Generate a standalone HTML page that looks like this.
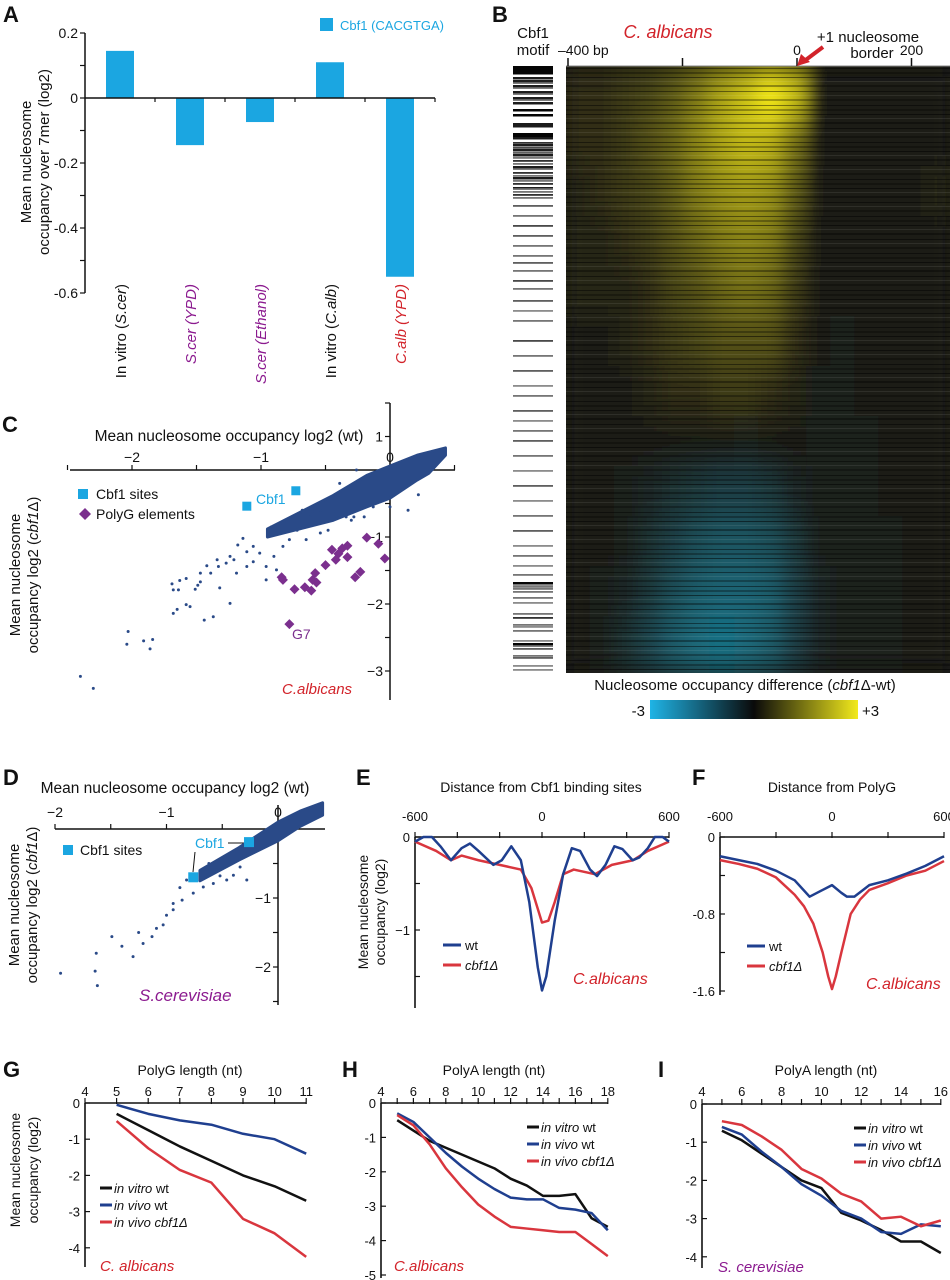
<!DOCTYPE html>
<html><head><meta charset="utf-8">
<style>
html,body{margin:0;padding:0;background:#fff;}
svg{display:block;font-family:"Liberation Sans",Arial,sans-serif;}
text{fill:#111;}
</style></head>
<body>
<svg id="fig" width="950" height="1280" viewBox="0 0 950 1280" xmlns="http://www.w3.org/2000/svg">
<defs>
<clipPath id="hmclip"><rect x="566" y="66" width="384" height="607"/></clipPath>
<filter id="hmblur" x="-5%" y="-5%" width="110%" height="110%"><feGaussianBlur stdDeviation="9 16"/></filter>
<pattern id="streaks" x="0" y="66" width="384" height="37" patternUnits="userSpaceOnUse">
<rect x="0" y="2" width="384" height="1" fill="#000" opacity="0.45"/>
<rect x="0" y="6" width="384" height="2" fill="#000" opacity="0.3"/>
<rect x="0" y="11" width="384" height="1" fill="#000" opacity="0.5"/>
<rect x="0" y="15" width="384" height="1" fill="#fff" opacity="0.08"/>
<rect x="0" y="19" width="384" height="2" fill="#000" opacity="0.35"/>
<rect x="0" y="25" width="384" height="1" fill="#000" opacity="0.45"/>
<rect x="0" y="29" width="384" height="1" fill="#fff" opacity="0.08"/>
<rect x="0" y="33" width="384" height="2" fill="#000" opacity="0.3"/>
</pattern>
</defs>
<rect x="0" y="0" width="950" height="1280" fill="#fff"/>
<g font-weight="bold" font-size="22">
<text x="3" y="22">A</text>
<text x="492" y="22">B</text>
<text x="2" y="432">C</text>
<text x="3" y="785">D</text>
<text x="356" y="785">E</text>
<text x="692" y="785">F</text>
<text x="3" y="1077">G</text>
<text x="342" y="1077">H</text>
<text x="658" y="1077">I</text>
</g>
<g>
<rect x="320" y="18" width="13" height="13" fill="#1ba6e1"/>
<text x="340" y="30" font-size="13" style="fill:#1ba6e1">Cbf1 (CACGTGA)</text>
<text transform="translate(31,162) rotate(-90)" text-anchor="middle" font-size="15">Mean nucleosome</text>
<text transform="translate(49,162) rotate(-90)" text-anchor="middle" font-size="15">occupancy over 7mer (log2)</text>
</g>
<g id="gA"></g>
<g>
<text x="533" y="38" text-anchor="middle" font-size="15">Cbf1</text>
<text x="533" y="55" text-anchor="middle" font-size="15">motif</text>
<text x="668" y="38" text-anchor="middle" font-size="18" font-style="italic" style="fill:#d2232a">C. albicans</text>
<text x="868" y="42" text-anchor="middle" font-size="15">+1 nucleosome</text>
<text x="872" y="58" text-anchor="middle" font-size="15">border</text>
<text x="745" y="690" text-anchor="middle" font-size="15">Nucleosome occupancy difference (<tspan font-style="italic">cbf1</tspan>Δ-wt)</text>
<linearGradient id="cbar" x1="0" x2="1" y1="0" y2="0">
<stop offset="0" stop-color="#1fb4e6"/><stop offset="0.5" stop-color="#0a0a0a"/><stop offset="1" stop-color="#f2ea1c"/></linearGradient>
<rect x="650" y="700" width="208" height="19" fill="url(#cbar)"/>
<text x="645" y="716" text-anchor="end" font-size="15">-3</text>
<text x="862" y="716" font-size="15">+3</text>
</g>
<g id="gB"></g>
<g>
<path d="M823,47 L803,62" stroke="#d2232a" stroke-width="4"/>
<polygon points="797,66 801,54 810,62" fill="#d2232a"/>
</g>
<g>
<text x="229" y="441" text-anchor="middle" font-size="15.5">Mean nucleosome occupancy log2 (wt)</text>
<text transform="translate(20,575) rotate(-90)" text-anchor="middle" font-size="15">Mean nucleosome</text>
<text transform="translate(38,575) rotate(-90)" text-anchor="middle" font-size="15">occupancy log2 (<tspan font-style="italic">cbf1</tspan>Δ)</text>
<rect x="78" y="489" width="10" height="10" fill="#1ba6e1"/>
<text x="96" y="499" font-size="14">Cbf1 sites</text>
<polygon points="85,508 91,514 85,520 79,514" fill="#7b2f8e"/>
<text x="96" y="519" font-size="14">PolyG elements</text>
<text x="256" y="504" font-size="14" style="fill:#1ba6e1">Cbf1</text>
<text x="292" y="639" font-size="14" style="fill:#7b2f8e">G7</text>
<text x="282" y="694" font-size="15" font-style="italic" style="fill:#d2232a">C.albicans</text>
</g>
<g id="gC"></g>
<g>
<text x="175" y="793" text-anchor="middle" font-size="15.5">Mean nucleosome occupancy log2 (wt)</text>
<text transform="translate(19,905) rotate(-90)" text-anchor="middle" font-size="15">Mean nucleosome</text>
<text transform="translate(37,905) rotate(-90)" text-anchor="middle" font-size="15">occupancy log2 (<tspan font-style="italic">cbf1</tspan>Δ)</text>
<rect x="63" y="845" width="10" height="10" fill="#1ba6e1"/>
<text x="80" y="855" font-size="14">Cbf1 sites</text>
<text x="195" y="848" font-size="14" style="fill:#1ba6e1">Cbf1</text>
<path d="M228,843 L244,843 M195,852 L193,872" stroke="#111" stroke-width="1" fill="none"/>
<text x="139" y="1001" font-size="17" font-style="italic" style="fill:#8b1a8f">S.cerevisiae</text>
</g>
<g id="gD"></g>
<g>
<text x="541" y="792" text-anchor="middle" font-size="14">Distance from Cbf1 binding sites</text>
<text transform="translate(368,912) rotate(-90)" text-anchor="middle" font-size="14">Mean nucleosome</text>
<text transform="translate(385,912) rotate(-90)" text-anchor="middle" font-size="14">occupancy (log2)</text>
<line x1="443" y1="945" x2="461" y2="945" stroke="#1f3f8f" stroke-width="3"/>
<text x="465" y="950" font-size="13">wt</text>
<line x1="443" y1="965" x2="461" y2="965" stroke="#d9363e" stroke-width="3"/>
<text x="465" y="970" font-size="13" font-style="italic">cbf1Δ</text>
<text x="573" y="984" font-size="16" font-style="italic" style="fill:#d2232a">C.albicans</text>
</g>
<g>
<text x="832" y="792" text-anchor="middle" font-size="14">Distance from PolyG</text>
<line x1="747" y1="946" x2="765" y2="946" stroke="#1f3f8f" stroke-width="3"/>
<text x="769" y="951" font-size="13">wt</text>
<line x1="747" y1="966" x2="765" y2="966" stroke="#d9363e" stroke-width="3"/>
<text x="769" y="971" font-size="13" font-style="italic">cbf1Δ</text>
<text x="866" y="989" font-size="16" font-style="italic" style="fill:#d2232a">C.albicans</text>
</g>
<g id="gE"></g>
<g id="gF"></g>
<g>
<text x="190" y="1075" text-anchor="middle" font-size="14">PolyG length (nt)</text>
<text transform="translate(20,1170) rotate(-90)" text-anchor="middle" font-size="14">Mean nucleosome</text>
<text transform="translate(38,1170) rotate(-90)" text-anchor="middle" font-size="14">occupancy (log2)</text>
<text x="100" y="1271" font-size="15" font-style="italic" style="fill:#d2232a">C. albicans</text>
</g>
<g>
<text x="494" y="1075" text-anchor="middle" font-size="14">PolyA length (nt)</text>
<text x="394" y="1271" font-size="15" font-style="italic" style="fill:#d2232a">C.albicans</text>
</g>
<g>
<text x="826" y="1075" text-anchor="middle" font-size="14">PolyA length (nt)</text>
<text x="718" y="1272" font-size="15" font-style="italic" style="fill:#8b1a8f">S. cerevisiae</text>
</g>
<g id="gG"></g>
<g id="gH"></g>
<g id="gI"></g>
</svg>
<script>
// ---------- Panel A data ----------
const aCategories = ["In vitro (S.cer)", "S.cer (YPD)", "S.cer (Ethanol)", "In vitro (C.alb)", "C.alb (YPD)"];
const aItalicParts = [["In vitro (", "S.cer", ")"], ["", "S.cer (YPD)", ""], ["", "S.cer (Ethanol)", ""], ["In vitro (", "C.alb", ")"], ["", "C.alb (YPD)", ""]];
const aColors = ["#111", "#8b1a8f", "#8b1a8f", "#111", "#d2232a"];
const aValues = [0.145, -0.145, -0.074, 0.11, -0.55];
const aTicks = [0.2, 0, -0.2, -0.4, -0.6];
const aTickLabels = ["0.2", "0", "-0.2", "-0.4", "-0.6"];

// ---------- Panel B data ----------
const bColEdgesBp = [-404,-362,-320,-278,-236,-194,-152,-110,-68,-26,16,58,100,142,184,226,268];
const bBandRows = [0,50,100,150,200,250,300,350,400,450,500,550,607];
const bMatrix = [
 [0.2,0.2,0.3,0.4,0.6,0.9,1.3,1.6,2.2,1.6,0,0,0,0,0,0],
 [0.2,0.2,0.3,0.5,0.7,1.0,1.3,1.5,1.4,0.8,0,0,0,0,0,0],
 [0.1,0.2,0.3,0.4,0.6,0.9,1.1,1.2,1.1,0.6,0,0,0,0,0,0.1],
 [0.1,0.1,0.2,0.3,0.5,0.7,0.9,1.0,0.9,0.4,0,0,0,0,0,0],
 [0.1,0.1,0.1,0.2,0.4,0.5,0.7,0.8,0.7,0.3,0,0,0,0,0,0],
 [0,0,0.1,0.2,0.3,0.4,0.5,0.5,0.5,0.2,0,-0.1,0,0,0,0],
 [0,0,0,0.1,0.2,0.2,0.3,0.3,0.2,0.1,-0.1,-0.1,0,0,0,0],
 [0,0,0,0,0,0,0,-0.1,0,0,-0.1,-0.1,-0.1,0,0,0],
 [0,0,-0.1,-0.2,-0.3,-0.4,-0.5,-0.5,-0.4,-0.2,-0.1,-0.1,-0.1,0,0,0],
 [0,0,-0.1,-0.3,-0.5,-0.7,-0.8,-0.8,-0.7,-0.4,-0.1,-0.1,-0.1,-0.1,0,0],
 [0,-0.1,-0.2,-0.4,-0.7,-0.9,-1.0,-1.0,-0.9,-0.5,-0.2,-0.1,-0.1,-0.1,0,0],
 [0,-0.1,-0.3,-0.6,-0.9,-1.1,-1.2,-1.1,-0.9,-0.5,-0.2,-0.1,-0.1,-0.1,0,0]
];
const bTicks = [-400, -200, 0, 200];
const bTickLabels = ["\u2013400 bp", "", "0", "200"];
const motifRows = [0,2,4,6,11,14,16,19,21,25,27,31,33,36,43,48,57,59,67,69,71,76,78,81,83,86,88,91,94,97,100,102,106,109,111,114,117,121,122,125,128,131,139,149,159,169,179,189,196,204,214,222,234,244,254,274,289,304,319,329,344,354,364,374,389,404,419,434,449,464,479,489,499,508,516,518,520,522,525,531,536,547,551,558,560,564,574,577,579,582,589,591,599,603];
const motifDark = [1,1,1,1,.9,.9,.6,.9,.6,.9,.6,.9,.6,.9,1,1,.9,.9,1,1,.9,.8,.9,.7,.9,.6,.9,.5,.8,.5,.9,.6,.8,.5,.9,.5,.8,.9,.6,.5,.8,.5,.6,.5,.7,.6,.5,.5,.6,.5,.7,.5,.6,.4,.5,.7,.5,.6,.4,.5,.6,.4,.5,.6,.5,.4,.6,.4,.5,.6,.4,.5,.4,.5,1,.5,.5,.5,.5,.5,.4,.5,.8,.5,.4,.5,.4,1,.6,.6,.5,.6,.4,.4];

// ---------- Panel C data ----------
const cPointsX = [-2.40,-2.30,-2.03,-2.04,-1.91,-1.84,-1.86,-1.69,-1.63,-1.58,-1.68,-1.64,-1.68,-1.65,-1.58,-1.55,-1.44,-1.37,-1.51,-1.49,-1.47,-1.42,-1.39,-1.33,-1.32,-1.24,-1.27,-1.21,-1.19,-1.18,-1.14,-1.11,-1.06,-1.01,-0.96,-0.90,-0.96,-0.84,-0.78,-0.72,-0.70,-0.83,-1.06,-1.11,-0.88,-0.65,-0.54,-0.48,-0.41,-0.44,-0.34,-0.28,-0.39,-0.26,-0.13,0,0.14,0.22,-0.54,-0.62,-0.75,-1.24,-1.34,-1.47,-0.92,-0.85,-0.60,-0.68,-0.50,-0.30,-0.20];
const cPointsY = [-3.08,-3.26,-2.41,-2.60,-2.55,-2.53,-2.67,-1.70,-1.65,-1.62,-1.79,-1.79,-2.14,-2.08,-2.01,-2.04,-2.24,-2.19,-1.78,-1.72,-1.67,-1.43,-1.54,-1.44,-1.76,-1.99,-1.39,-1.34,-1.54,-1.12,-1.02,-1.22,-1.14,-1.24,-1.44,-1.29,-1.64,-0.94,-1.04,-0.90,-0.85,-1.14,-1.37,-1.44,-1.49,-1.04,-0.94,-0.90,-0.72,-0.62,-0.70,-0.70,-0.20,0.0,-0.55,-0.55,-0.60,-0.37,-0.60,-0.70,-0.70,-1.29,-1.34,-1.54,-0.85,-0.80,-0.62,-0.60,-0.50,-0.75,-0.70];
const cCloudX = [-0.95,-0.44,-0.18,0,0.21,0.43,0.43,0.3,0.21,0,-0.18,-0.44,-0.95];
const cCloudY = [-0.88,-0.38,-0.08,0.06,0.22,0.33,0.22,-0.05,-0.15,-0.42,-0.55,-0.75,-1.0];
const cCbf1X = [-1.11, -0.73];
const cCbf1Y = [-0.54, -0.31];
const cPolyGX = [-0.18,-0.09,-0.04,-0.33,-0.37,-0.45,-0.40,-0.42,-0.33,-0.50,-0.58,-0.60,-0.57,-0.66,-0.61,-0.74,-0.84,-0.83,-0.23,-0.27,-0.78];
const cPolyGY = [-1.01,-1.10,-1.32,-1.13,-1.17,-1.19,-1.25,-1.34,-1.30,-1.42,-1.54,-1.64,-1.68,-1.75,-1.80,-1.78,-1.60,-1.64,-1.52,-1.60,-2.30];
const cXTicks = [-2.5,-2,-1.5,-1,-0.5,0,0.5];
const cXTickLabels = {"-2":"\u22122","-1":"\u22121","0":"0"};
const cYTicks = [1,0.5,0,-0.5,-1,-1.5,-2,-2.5,-3];
const cYTickLabels = {"0.5":"1","-1":"\u22121","-2":"\u22122","-3":"\u22123"};

// ---------- Panel D data ----------
const dPointsX = [-0.82,-0.70,-0.64,-0.55,-0.58,-0.76,-0.86,-0.94,-1.0,-1.03,-1.09,-1.13,-1.21,-1.30,-1.49,-1.63,-0.46,-0.40,-0.34,-0.28,-0.94,-0.67,-1.95,-1.64,-1.62,-1.25,-1.40,-0.88,-0.52,-0.62];
const dPointsY = [-0.74,-0.62,-0.69,-0.59,-0.79,-0.93,-1.03,-1.17,-1.25,-1.39,-1.44,-1.56,-1.66,-1.85,-1.56,-1.80,-0.74,-0.67,-0.55,-0.74,-1.08,-0.84,-2.09,-2.06,-2.27,-1.50,-1.70,-0.85,-0.68,-0.50];
const dCloudX = [-0.7,-0.35,0,0.2,0.4,0.4,0.2,0,-0.35,-0.7];
const dCloudY = [-0.6,-0.27,0.1,0.26,0.38,0.2,0.04,-0.17,-0.45,-0.75];
const dCbf1X = [-0.26, -0.76];
const dCbf1Y = [-0.19, -0.70];
const dXTicks = [-2,-1.5,-1,-0.5,0];
const dXTickLabels = {"-2":"\u22122","-1":"\u22121","0":"0"};
const dYTicks = [0,-0.5,-1,-1.5,-2,-2.5];
const dYTickLabels = {"-1":"\u22121","-2":"\u22122"};

// ---------- Panel E data ----------
const eWtX = [-600,-560,-520,-480,-430,-380,-340,-300,-230,-190,-145,-100,-60,-20,0,20,60,100,141,180,227,260,300,342,380,428,460,500,533,570,600];
const eWtY = [-0.05,0,0,-0.1,-0.25,-0.12,-0.07,-0.15,-0.3,-0.25,-0.1,-0.25,-0.7,-1.4,-1.65,-1.5,-0.9,-0.4,-0.12,-0.15,-0.35,-0.42,-0.3,-0.1,-0.13,-0.25,-0.22,-0.12,0,0,-0.05];
const eCbfX = [-600,-500,-430,-380,-300,-200,-100,-50,0,30,60,100,150,250,330,430,500,600];
const eCbfY = [-0.05,-0.15,-0.25,-0.2,-0.25,-0.3,-0.35,-0.55,-0.92,-0.9,-0.7,-0.4,-0.35,-0.4,-0.3,-0.25,-0.15,-0.05];
const eXTicks = [-600,-400,-200,0,200,400,600];
const eXTickLabels = {"-600":"-600","0":"0","600":"600"};
const eYTicks = [0,-0.5,-1,-1.5];
const eYTickLabels = {"0":"0","-1":"\u22121"};

// ---------- Panel F data ----------
const fWtX = [-600,-500,-400,-300,-200,-120,-80,-50,0,50,80,120,200,300,400,500,600];
const fWtY = [-0.2,-0.24,-0.28,-0.35,-0.45,-0.62,-0.58,-0.55,-0.5,-0.58,-0.62,-0.62,-0.5,-0.45,-0.38,-0.3,-0.2];
const fCbfX = [-600,-500,-400,-300,-200,-150,-100,-50,-20,0,20,50,100,150,200,300,400,500,600];
const fCbfY = [-0.24,-0.28,-0.33,-0.42,-0.6,-0.72,-0.9,-1.2,-1.45,-1.58,-1.45,-1.2,-0.8,-0.65,-0.55,-0.48,-0.4,-0.35,-0.25];
const fXTicks = [-600,-300,0,300,600];
const fXTickLabels = {"-600":"-600","0":"0","600":"600"};
const fYTicks = [0,-0.4,-0.8,-1.2,-1.6];
const fYTickLabels = {"0":"0","-0.8":"-0.8","-1.6":"-1.6"};

// ---------- Panel G data ----------
const gLengths = [5,6,7,8,9,10,11];
const gVitro = [-0.3,-0.75,-1.2,-1.6,-2.0,-2.3,-2.7];
const gVivo = [-0.05,-0.3,-0.48,-0.6,-0.85,-1.0,-1.4];
const gCbf = [-0.5,-1.25,-1.85,-2.2,-3.2,-3.6,-4.25];
const gXTicks = [4,5,6,7,8,9,10,11];
const gYTicks = [0,-1,-2,-3,-4];

// ---------- Panel H data ----------
const hLengths = [5,6,7,8,9,10,11,12,13,14,15,16,17,18];
const hVitro = [-0.5,-0.8,-1.1,-1.3,-1.5,-1.7,-1.9,-2.2,-2.4,-2.7,-2.7,-2.65,-3.35,-3.6];
const hVivo = [-0.3,-0.55,-1.0,-1.45,-1.85,-2.2,-2.5,-2.75,-2.8,-2.8,-3.05,-3.1,-3.2,-3.7];
const hCbf = [-0.35,-0.65,-1.2,-1.9,-2.45,-2.95,-3.3,-3.6,-3.65,-3.7,-3.75,-3.75,-4.1,-4.45];
const hXTicks = [4,5,6,7,8,9,10,11,12,13,14,15,16,17,18];
const hYTicks = [0,-1,-2,-3,-4,-5];

// ---------- Panel I data ----------
const iLengths = [5,6,7,8,9,10,11,12,13,14,15,16];
const iVitro = [-0.7,-0.95,-1.3,-1.65,-2.0,-2.2,-2.85,-3.05,-3.3,-3.6,-3.6,-3.9];
const iVivo = [-0.6,-0.8,-1.25,-1.65,-2.1,-2.4,-2.8,-3.0,-3.35,-3.4,-3.15,-3.2];
const iCbf = [-0.45,-0.55,-0.85,-1.2,-1.7,-1.95,-2.35,-2.55,-3.0,-2.95,-3.2,-3.05];
const iXTicks = [4,5,6,7,8,9,10,11,12,13,14,15,16];
const iYTicks = [0,-1,-2,-3,-4];

const NS = "http://www.w3.org/2000/svg";
function mk(parent, tag, attrs) {
  const e = document.createElementNS(NS, tag);
  for (const k in attrs) e.setAttribute(k, attrs[k]);
  parent.appendChild(e);
  return e;
}
function fmt(v){ return String(Math.round(v*1000)/1000); }

// ===== Panel A =====
(function(){
  const g = document.getElementById("gA");
  const yA = v => 98 - v*325;
  const xA = i => 120 + i*70;
  let ax = mk(g, "line", {x1:85,y1:yA(0.2),x2:85,y2:yA(-0.6),stroke:"#111","stroke-width":1.5});
  
  
  for (let v=0.2; v>=-0.6001; v-=0.1) {
    const t = mk(g,"line",{x1:80,y1:yA(v),x2:85,y2:yA(v),stroke:"#111","stroke-width":1.2});
    
    
  }
  aTicks.forEach((v,i)=>{
    const t = mk(g,"text",{x:78,y:yA(v)+5,"text-anchor":"end","font-size":14});
    t.textContent = aTickLabels[i];
    
    
  });
  aValues.forEach((v,i)=>{
    const y0 = yA(0), y1 = yA(v);
    const r = mk(g,"rect",{x:xA(i)-14,y:Math.min(y0,y1),width:28,height:Math.abs(y1-y0),fill:"#1ba6e1"});
    
    
  });
  const xl = mk(g,"line",{x1:85,y1:yA(0),x2:xA(4)+35,y2:yA(0),stroke:"#111","stroke-width":1.5});
  
  
  aCategories.forEach((c,i)=>{
    const tk = mk(g,"line",{x1:xA(i)+35,y1:yA(0),x2:xA(i)+35,y2:yA(0)+4,stroke:"#111","stroke-width":1.2});
    
    
    const t = mk(g,"text",{transform:"translate("+(xA(i)+6)+",284) rotate(-90)","text-anchor":"end","font-size":15});
    const p = aItalicParts[i];
    const s1 = mk(t,"tspan",{}); s1.textContent = p[0];
    const s2 = mk(t,"tspan",{"font-style":"italic"}); s2.textContent = p[1];
    const s3 = mk(t,"tspan",{}); s3.textContent = p[2];
    t.style.fill = aColors[i];
    
    
  });
})();

// ===== Panel B =====
(function(){
  const g = document.getElementById("gB");
  const xB = bp => 797 + bp*(229/400);
  const yB = r => 66 + r;
  const base = [26,26,22];
  function col(v){
    const t = v>=0 ? Math.min(1, v/2) : Math.min(1, -v/2.2);
    const c = v>=0 ? [250,238,20] : [25,185,225];
    return "rgb("+base.map((b,k)=>Math.round(b+(c[k]-b)*t)).join(",")+")";
  }
  const clipG = mk(g,"g",{"clip-path":"url(#hmclip)"});
  
  
  const bg = mk(clipG,"rect",{x:566,y:66,width:384,height:607,fill:"rgb(26,26,22)"});
  
  
  const cells = mk(clipG,"g",{filter:"url(#hmblur)"});
  
  
  bMatrix.forEach((row,ri)=>{
    row.forEach((v,ci)=>{
      const x0 = xB(bColEdgesBp[ci]), x1 = xB(bColEdgesBp[ci+1]);
      const r = mk(cells,"rect",{x:fmt(x0),y:yB(bBandRows[ri]),width:fmt(x1-x0+0.6),height:bBandRows[ri+1]-bBandRows[ri]+0.5,fill:col(v)});
      
      
    });
  });
  const st = mk(clipG,"rect",{x:566,y:66,width:384,height:607,fill:"url(#streaks)"});
  
  
  const fr = mk(g,"line",{x1:566,y1:66,x2:950,y2:66,stroke:"#888","stroke-width":1});
  
  
  bTicks.forEach((v,i)=>{
    const t = mk(g,"line",{x1:xB(v),y1:58,x2:xB(v),y2:66,stroke:"#111","stroke-width":1.5});
    
    
    if (bTickLabels[i]) {
      const tx = mk(g,"text",{x:xB(v)+(i===0?-10:0),y:55,"text-anchor":i===0?"start":"middle","font-size":14});
      tx.textContent = bTickLabels[i];
      
      
    }
  });
  motifRows.forEach((r,i)=>{
    const d = motifDark[i];
    const c = Math.round(230 - d*225);
    const l = mk(g,"rect",{x:513,y:yB(r),width:40,height:d>0.85?2.5:1.8,fill:"rgb("+c+","+c+","+c+")"});
    
    
  });
})();

function scatterAxes(g, sx, sy, xTicks, xLabs, yTicks, yLabs, xRange, yRange, tag, xLabY, yLabX){
  const xa = mk(g,"line",{x1:xRange[0],y1:sy(0),x2:xRange[1],y2:sy(0),stroke:"#111","stroke-width":1.5});
  
  
  const ya = mk(g,"line",{x1:sx(0),y1:yRange[0],x2:sx(0),y2:yRange[1],stroke:"#111","stroke-width":1.5});
  
  
  xTicks.forEach(v=>{
    const t = mk(g,"line",{x1:sx(v),y1:sy(0),x2:sx(v),y2:sy(0)-5,stroke:"#111","stroke-width":1.2});
    
    
    if (xLabs[String(v)] !== undefined) {
      const tx = mk(g,"text",{x:sx(v),y:xLabY,"text-anchor":"middle","font-size":14});
      tx.textContent = xLabs[String(v)];
      
      
    }
  });
  yTicks.forEach(v=>{
    const t = mk(g,"line",{x1:sx(0)-5,y1:sy(v),x2:sx(0),y2:sy(v),stroke:"#111","stroke-width":1.2});
    
    
    if (yLabs[String(v)] !== undefined) {
      const tx = mk(g,"text",{x:sx(0)+yLabX,y:sy(v)+5,"text-anchor":"end","font-size":14});
      tx.textContent = yLabs[String(v)];
      
      
    }
  });
}
function cloud(g, sx, sy, xs, ys, tag){
  const pts = xs.map((x,i)=>fmt(sx(x))+","+fmt(sy(ys[i]))).join(" ");
  const p = mk(g,"polygon",{points:pts,fill:"#2a4a88","stroke":"#2a4a88","stroke-width":3,"stroke-linejoin":"round"});
  
  
}
function dots(g, sx, sy, xs, ys, tag){
  xs.forEach((x,i)=>{
    const c = mk(g,"circle",{cx:fmt(sx(x)),cy:fmt(sy(ys[i])),r:1.5,fill:"#2a4a88"});
    
    
  });
}

(function(){
  const g = document.getElementById("gC");
  const xC = v => 390 + v*129;
  const yC = v => 470 - v*67;
  scatterAxes(g, xC, yC, cXTicks, cXTickLabels, cYTicks, cYTickLabels, [70,455], [403,700], "c", 462, -7);
  cloud(g, xC, yC, cCloudX, cCloudY, "c");
  dots(g, xC, yC, cPointsX, cPointsY, "c");
  cPolyGX.forEach((x,i)=>{
    const cx = xC(x), cy = yC(cPolyGY[i]);
    const d = mk(g,"polygon",{points:fmt(cx)+","+fmt(cy-5)+" "+fmt(cx+5)+","+fmt(cy)+" "+fmt(cx)+","+fmt(cy+5)+" "+fmt(cx-5)+","+fmt(cy),fill:"#7b2f8e"});
    
    
  });
  cCbf1X.forEach((x,i)=>{
    const r = mk(g,"rect",{x:fmt(xC(x)-4.5),y:fmt(yC(cCbf1Y[i])-4.5),width:9,height:9,fill:"#1ba6e1"});
    
    
  });
})();

(function(){
  const g = document.getElementById("gD");
  const xD = v => 278 + v*111.5;
  const yD = v => 829 - v*69;
  scatterAxes(g, xD, yD, dXTicks, dXTickLabels, dYTicks, dYTickLabels, [55,325], [805,1005], "d", 817, -7);
  cloud(g, xD, yD, dCloudX, dCloudY, "d");
  dots(g, xD, yD, dPointsX, dPointsY, "d");
  dCbf1X.forEach((x,i)=>{
    const r = mk(g,"rect",{x:fmt(xD(x)-5),y:fmt(yD(dCbf1Y[i])-5),width:10,height:10,fill:"#1ba6e1"});
    
    
  });
})();

function polyline(g, xs, ys, sx, sy, color, name, w){
  const pts = xs.map((x,i)=>fmt(sx(x))+","+fmt(sy(ys[i]))).join(" ");
  const p = mk(g,"polyline",{points:pts,fill:"none",stroke:color,"stroke-width":w||2.5,"stroke-linejoin":"round"});
  
  
}
function topAxes(g, sx, sy, xTicks, xLabFn, yTicks, yLabFn, yBottom, tag, xLabY){
  const xa = mk(g,"line",{x1:sx(xTicks[0]),y1:sy(0),x2:sx(xTicks[xTicks.length-1]),y2:sy(0),stroke:"#111","stroke-width":1.6});
  
  
  const ya = mk(g,"line",{x1:sx(xTicks[0]),y1:sy(0),x2:sx(xTicks[0]),y2:yBottom,stroke:"#111","stroke-width":1.6});
  
  
  xTicks.forEach(v=>{
    const t = mk(g,"line",{x1:sx(v),y1:sy(0)-5,x2:sx(v),y2:sy(0)+1,stroke:"#111","stroke-width":1.2});
    
    
    const lab = xLabFn(v);
    if (lab !== null) {
      const tx = mk(g,"text",{x:sx(v),y:xLabY,"text-anchor":"middle","font-size":13});
      tx.textContent = lab;
      
      
    }
  });
  yTicks.forEach(v=>{
    const t = mk(g,"line",{x1:sx(xTicks[0]),y1:sy(v),x2:sx(xTicks[0])+5,y2:sy(v),stroke:"#111","stroke-width":1.2});
    
    
    const lab = yLabFn(v);
    if (lab !== null) {
      const tx = mk(g,"text",{x:sx(xTicks[0])-5,y:sy(v)+5,"text-anchor":"end","font-size":13});
      tx.textContent = lab;
      
      
    }
  });
}
function legend3(g, x, y0, step, tag){
  const items = [["in vitro"," wt","#111"],["in vivo"," wt","#1f3f8f"],["in vivo"," cbf1\u0394","#d9363e"]];
  items.forEach((it,i)=>{
    const y = y0 + i*step;
    const l = mk(g,"line",{x1:x,y1:y,x2:x+12,y2:y,stroke:it[2],"stroke-width":3});
    
    
    const t = mk(g,"text",{x:x+14,y:y+5,"font-size":13});
    const a = mk(t,"tspan",{"font-style":"italic"}); a.textContent = it[0];
    const b = mk(t,"tspan",{"font-style": i===2 ? "italic" : "normal"}); b.textContent = it[1];
    
    
  });
}

(function(){
  const g = document.getElementById("gE");
  const xE = bp => 542 + bp*(254/1200);
  const yE = v => 837 - v*93;
  topAxes(g, xE, yE, eXTicks, v=>eXTickLabels[String(v)]===undefined?null:eXTickLabels[String(v)], eYTicks, v=>eYTickLabels[String(v)]===undefined?null:eYTickLabels[String(v)], 1008, "e", 821);
  polyline(g, eCbfX, eCbfY, xE, yE, "#d9363e", "cbf1-line-e");
  polyline(g, eWtX, eWtY, xE, yE, "#1f3f8f", "wt-line-e");
})();
(function(){
  const g = document.getElementById("gF");
  const xF = bp => 832 + bp*(224/1200);
  const yF = v => 837 - v*96.25;
  topAxes(g, xF, yF, fXTicks, v=>fXTickLabels[String(v)]===undefined?null:fXTickLabels[String(v)], fYTicks, v=>fYTickLabels[String(v)]===undefined?null:fYTickLabels[String(v)], 995, "f", 821);
  polyline(g, fCbfX, fCbfY, xF, yF, "#d9363e", "cbf1-line-f");
  polyline(g, fWtX, fWtY, xF, yF, "#1f3f8f", "wt-line-f");
})();
(function(){
  const g = document.getElementById("gG");
  const xG = n => 85 + (n-4)*31.6;
  const yG = v => 1103 - v*36.2;
  topAxes(g, xG, yG, gXTicks, v=>String(v), gYTicks, v=>String(v), 1267, "g", 1096);
  polyline(g, gLengths, gVitro, xG, yG, "#111", "in-vitro-wt-line-g");
  polyline(g, gLengths, gVivo, xG, yG, "#1f3f8f", "in-vivo-wt-line-g");
  polyline(g, gLengths, gCbf, xG, yG, "#d9363e", "in-vivo-cbf1-line-g");
  legend3(g, 100, 1188, 17, "g");
})();
(function(){
  const g = document.getElementById("gH");
  const xH = n => 381 + (n-4)*16.2;
  const yH = v => 1103 - v*34.4;
  topAxes(g, xH, yH, hXTicks, v=>v%2===0?String(v):null, hYTicks, v=>String(v), 1278, "h", 1096);
  polyline(g, hLengths, hVitro, xH, yH, "#111", "in-vitro-wt-line-h");
  polyline(g, hLengths, hVivo, xH, yH, "#1f3f8f", "in-vivo-wt-line-h");
  polyline(g, hLengths, hCbf, xH, yH, "#d9363e", "in-vivo-cbf1-line-h");
  legend3(g, 527, 1127, 17, "h");
})();
(function(){
  const g = document.getElementById("gI");
  const xI = n => 702 + (n-4)*19.9;
  const yI = v => 1104 - v*38.2;
  topAxes(g, xI, yI, iXTicks, v=>v%2===0?String(v):null, iYTicks, v=>String(v), 1268, "i", 1096);
  polyline(g, iLengths, iVitro, xI, yI, "#111", "in-vitro-wt-line-i");
  polyline(g, iLengths, iVivo, xI, yI, "#1f3f8f", "in-vivo-wt-line-i");
  polyline(g, iLengths, iCbf, xI, yI, "#d9363e", "in-vivo-cbf1-line-i");
  legend3(g, 854, 1128, 17, "i");
})();
</script>
</body></html>
